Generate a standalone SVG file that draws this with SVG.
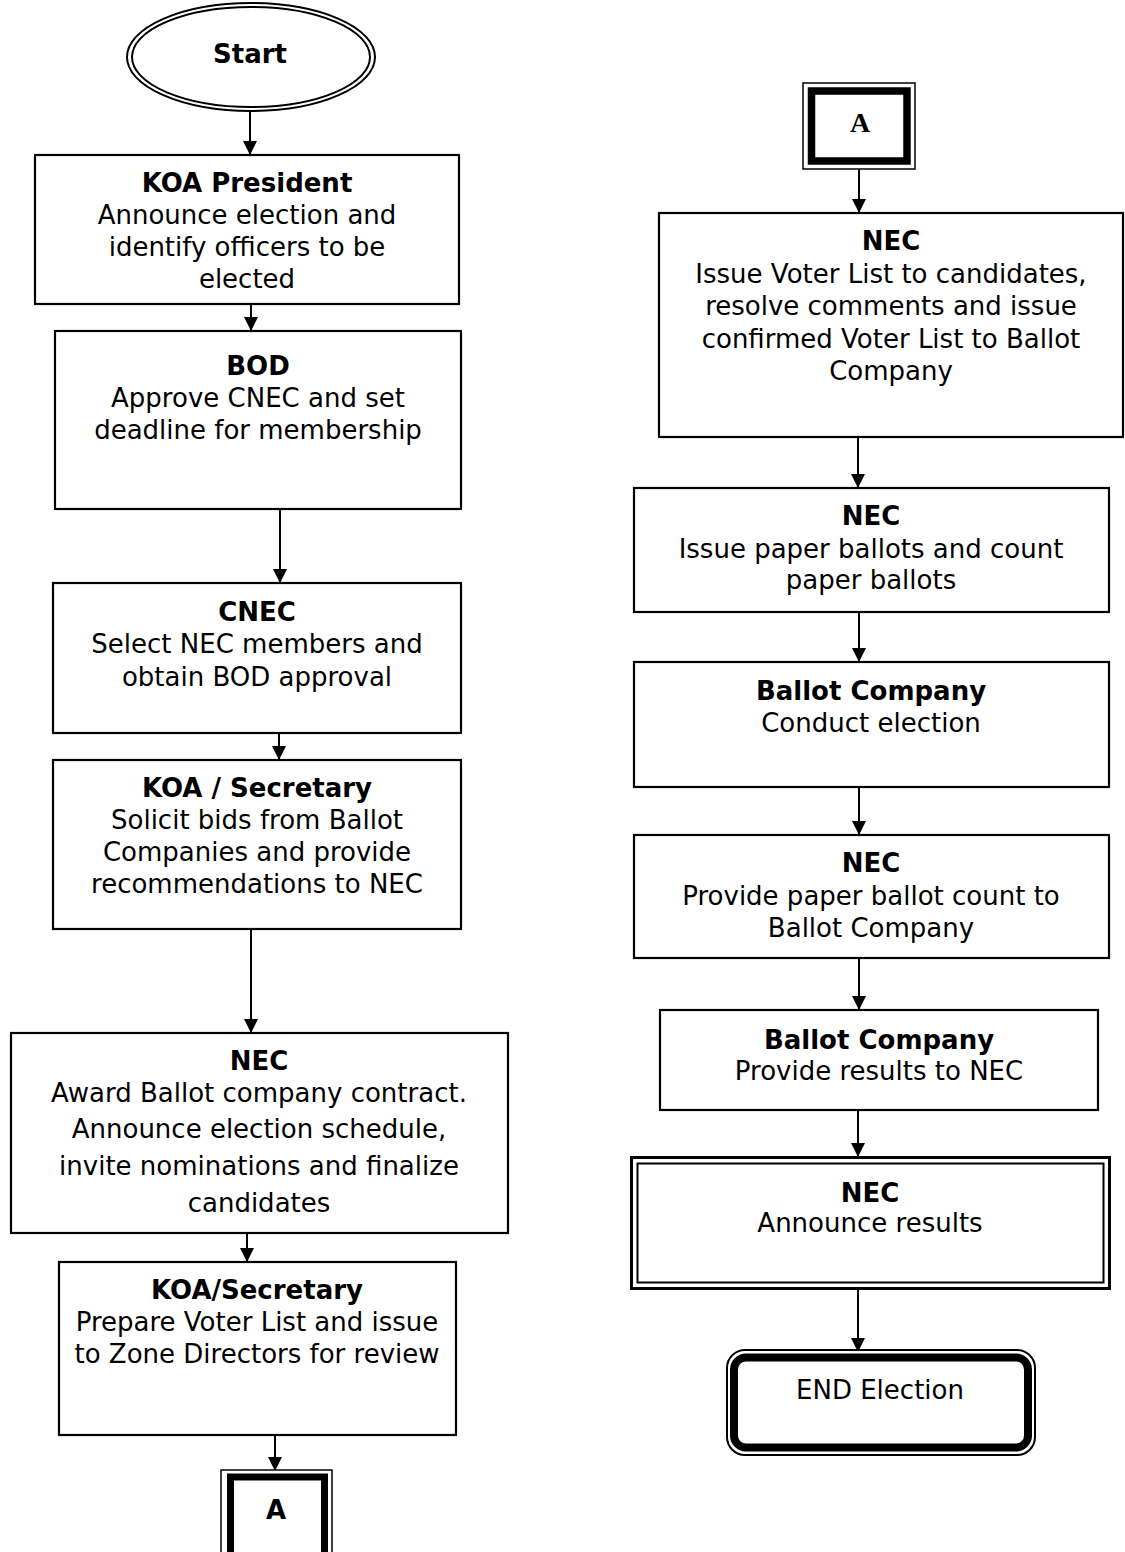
<svg xmlns="http://www.w3.org/2000/svg" width="1125" height="1552" viewBox="0 0 1125 1552">
<style>
.box{fill:#fff;stroke:#000;stroke-width:2.2}
.t{font-family:"DejaVu Sans","Verdana",sans-serif;font-size:26px;fill:#000;text-anchor:middle}
.b{font-weight:bold}
.c{fill:none;stroke:#000;stroke-width:2}
</style>
<defs>
<marker id="ah" markerUnits="userSpaceOnUse" markerWidth="14" markerHeight="14" viewBox="0 0 14 14" refX="14" refY="7" orient="auto">
<path d="M0,0 L14,7 L0,14 Z" fill="#000"/>
</marker>
</defs>
<rect width="1125" height="1552" fill="#fff"/>

<g id="connectors">
<line class="c" x1="250" y1="111" x2="250" y2="155" marker-end="url(#ah)"/>
<line class="c" x1="251" y1="304" x2="251" y2="331" marker-end="url(#ah)"/>
<line class="c" x1="280" y1="509" x2="280" y2="583" marker-end="url(#ah)"/>
<line class="c" x1="279" y1="733" x2="279" y2="760" marker-end="url(#ah)"/>
<line class="c" x1="251" y1="929" x2="251" y2="1033" marker-end="url(#ah)"/>
<line class="c" x1="247" y1="1233" x2="247" y2="1262" marker-end="url(#ah)"/>
<line class="c" x1="275" y1="1435" x2="275" y2="1471" marker-end="url(#ah)"/>
<line class="c" x1="859" y1="169" x2="859" y2="213" marker-end="url(#ah)"/>
<line class="c" x1="858" y1="437" x2="858" y2="488" marker-end="url(#ah)"/>
<line class="c" x1="859" y1="612" x2="859" y2="662" marker-end="url(#ah)"/>
<line class="c" x1="859" y1="787" x2="859" y2="835" marker-end="url(#ah)"/>
<line class="c" x1="859" y1="958" x2="859" y2="1010" marker-end="url(#ah)"/>
<line class="c" x1="858" y1="1110" x2="858" y2="1157" marker-end="url(#ah)"/>
<line class="c" x1="858" y1="1289" x2="858" y2="1352" marker-end="url(#ah)"/>
</g>

<g id="start">
<ellipse cx="251" cy="57" rx="124" ry="54" fill="#fff" stroke="#000" stroke-width="2"/>
<ellipse cx="251" cy="57" rx="119" ry="50" fill="none" stroke="#000" stroke-width="2"/>
<text class="t b" x="250" y="63">Start</text>
</g>

<g id="koa-president">
<rect class="box" x="35" y="155" width="424" height="149"/>
<text class="t b" x="247" y="192">KOA President</text>
<text class="t" x="247" y="224">Announce election and</text>
<text class="t" x="247" y="256">identify officers to be</text>
<text class="t" x="247" y="288">elected</text>
</g>

<g id="bod">
<rect class="box" x="55" y="331" width="406" height="178"/>
<text class="t b" x="258" y="375">BOD</text>
<text class="t" x="258" y="407">Approve CNEC and set</text>
<text class="t" x="258" y="439">deadline for membership</text>
</g>

<g id="cnec">
<rect class="box" x="53" y="583" width="408" height="150"/>
<text class="t b" x="257" y="621">CNEC</text>
<text class="t" x="257" y="653">Select NEC members and</text>
<text class="t" x="257" y="686">obtain BOD approval</text>
</g>

<g id="koa-secretary-1">
<rect class="box" x="53" y="760" width="408" height="169"/>
<text class="t b" x="257" y="797">KOA / Secretary</text>
<text class="t" x="257" y="829">Solicit bids from Ballot</text>
<text class="t" x="257" y="861">Companies and provide</text>
<text class="t" x="257" y="893">recommendations to NEC</text>
</g>

<g id="nec-award">
<rect class="box" x="11" y="1033" width="497" height="200"/>
<text class="t b" x="259" y="1070">NEC</text>
<text class="t" x="259" y="1102">Award Ballot company contract.</text>
<text class="t" x="259" y="1138">Announce election schedule,</text>
<text class="t" x="259" y="1175">invite nominations and finalize</text>
<text class="t" x="259" y="1212">candidates</text>
</g>

<g id="koa-secretary-2">
<rect class="box" x="59" y="1262" width="397" height="173"/>
<text class="t b" x="257" y="1299">KOA/Secretary</text>
<text class="t" x="257" y="1331">Prepare Voter List and issue</text>
<text class="t" x="257" y="1363">to Zone Directors for review</text>
</g>

<g id="connector-a-out">
<rect x="221" y="1470" width="111" height="92" fill="#fff" stroke="#000" stroke-width="1.5"/>
<rect x="230.5" y="1477" width="94" height="80" fill="#fff" stroke="#000" stroke-width="7"/>
<text class="t b" x="276" y="1519">A</text>
</g>

<g id="connector-a-in">
<rect x="803" y="83" width="112" height="86" fill="#fff" stroke="#000" stroke-width="1.5"/>
<rect x="811.5" y="91" width="95.5" height="70" fill="#fff" stroke="#000" stroke-width="7.5"/>
<text x="860" y="132" font-family="Liberation Serif, serif" font-weight="bold" font-size="28" text-anchor="middle">A</text>
</g>

<g id="nec-voter-list">
<rect class="box" x="659" y="213" width="464" height="224"/>
<text class="t b" x="891" y="250">NEC</text>
<text class="t" x="891" y="283">Issue Voter List to candidates,</text>
<text class="t" x="891" y="315">resolve comments and issue</text>
<text class="t" x="891" y="348">confirmed Voter List to Ballot</text>
<text class="t" x="891" y="380">Company</text>
</g>

<g id="nec-paper">
<rect class="box" x="634" y="488" width="475" height="124"/>
<text class="t b" x="871" y="525">NEC</text>
<text class="t" x="871" y="558">Issue paper ballots and count</text>
<text class="t" x="871" y="589">paper ballots</text>
</g>

<g id="ballot-conduct">
<rect class="box" x="634" y="662" width="475" height="125"/>
<text class="t b" x="871" y="700">Ballot Company</text>
<text class="t" x="871" y="732">Conduct election</text>
</g>

<g id="nec-count">
<rect class="box" x="634" y="835" width="475" height="123"/>
<text class="t b" x="871" y="872">NEC</text>
<text class="t" x="871" y="905">Provide paper ballot count to</text>
<text class="t" x="871" y="937">Ballot Company</text>
</g>

<g id="ballot-results">
<rect class="box" x="660" y="1010" width="438" height="100"/>
<text class="t b" x="879" y="1049">Ballot Company</text>
<text class="t" x="879" y="1080">Provide results to NEC</text>
</g>

<g id="nec-announce">
<rect x="631.5" y="1157.5" width="478" height="131" fill="#fff" stroke="#000" stroke-width="3"/>
<rect x="637.5" y="1163.5" width="466" height="119" fill="none" stroke="#000" stroke-width="2"/>
<text class="t b" x="870" y="1202">NEC</text>
<text class="t" x="870" y="1232">Announce results</text>
</g>

<g id="end">
<rect x="727" y="1350" width="308" height="105" rx="18" fill="#fff" stroke="#000" stroke-width="2"/>
<rect x="734" y="1357.5" width="294" height="90" rx="12" fill="none" stroke="#000" stroke-width="8"/>
<text class="t" x="880" y="1399">END Election</text>
</g>
</svg>
